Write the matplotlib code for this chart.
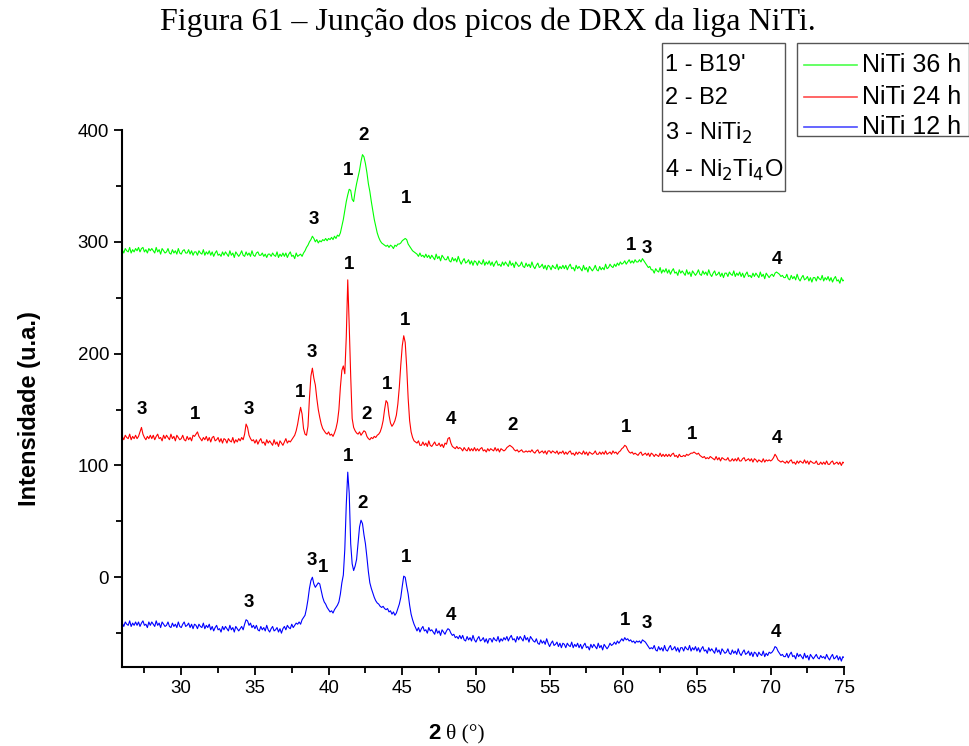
import numpy as np
import matplotlib
matplotlib.use("Agg")
import matplotlib.pyplot as plt
from matplotlib.patches import Rectangle
from matplotlib.lines import Line2D

SANS = ["Liberation Sans", "DejaVu Sans"]
SERIF = ["Liberation Serif", "DejaVu Serif"]
plt.rcParams["font.family"] = SANS

# 2-theta grid (degrees), 0.1 deg step
two_theta = np.round(np.arange(26.0, 75.01, 0.1), 1)

# Intensities (a.u., vertically offset), one row per degree
niti_36h = [
    293, 290, 294, 292, 291, 295, 290, 293, 291, 294,  # 26
    292, 295, 291, 294, 295, 291, 293, 290, 294, 292,  # 27
    294, 292, 290, 295, 291, 293, 289, 294, 292, 290,  # 28
    291, 294, 290, 289, 293, 290, 292, 289, 294, 290,  # 29
    289, 292, 293, 290, 290, 293, 289, 292, 288, 291,  # 30
    291, 288, 292, 290, 289, 293, 288, 291, 289, 292,  # 31
    288, 291, 287, 290, 292, 288, 289, 287, 291, 288,  # 32
    291, 289, 287, 292, 288, 290, 286, 291, 289, 287,  # 33
    289, 292, 288, 287, 291, 288, 290, 287, 292, 288,  # 34
    287, 290, 291, 288, 288, 290, 287, 289, 286, 289,  # 35
    289, 287, 290, 288, 287, 291, 286, 289, 287, 290,  # 36
    287, 290, 286, 289, 291, 287, 288, 285, 290, 287,  # 37
    288, 289, 287, 290, 292, 295, 297, 300, 302, 305,  # 38
    303, 300, 302, 299, 301, 300, 302, 301, 303, 301,  # 39
    303, 302, 304, 302, 305, 303, 306, 305, 308, 314,  # 40
    320, 328, 336, 342, 347, 346, 338, 336, 345, 352,  # 41
    358, 364, 372, 378, 376, 370, 362, 352, 345, 336,  # 42
    328, 320, 314, 308, 304, 301, 299, 298, 297, 296,  # 43
    297, 295, 297, 296, 294, 297, 296, 298, 298, 299,  # 44
    301, 302, 303, 302, 298, 296, 294, 292, 291, 290,  # 45
    289, 287, 290, 287, 288, 286, 289, 286, 288, 285,  # 46
    288, 286, 284, 289, 285, 287, 283, 288, 286, 284,  # 47
    284, 287, 283, 282, 286, 283, 285, 282, 287, 283,  # 48
    280, 283, 285, 281, 282, 284, 280, 283, 279, 283,  # 49
    282, 279, 283, 281, 280, 284, 279, 282, 280, 283,  # 50
    279, 282, 278, 281, 283, 279, 280, 278, 282, 279,  # 51
    282, 280, 278, 283, 279, 281, 277, 282, 280, 278,  # 52
    279, 282, 278, 277, 281, 278, 280, 277, 282, 278,  # 53
    276, 279, 281, 277, 278, 280, 276, 279, 275, 279,  # 54
    278, 275, 279, 277, 276, 280, 275, 278, 276, 279,  # 55
    276, 279, 275, 278, 280, 276, 277, 274, 279, 276,  # 56
    278, 276, 274, 279, 275, 277, 273, 278, 276, 274,  # 57
    276, 279, 275, 274, 278, 275, 277, 275, 280, 276,  # 58
    277, 280, 278, 277, 280, 278, 281, 279, 282, 280,  # 59
    281, 283, 280, 282, 284, 281, 283, 281, 284, 282,  # 60
    282, 284, 282, 285, 283, 281, 279, 277, 278, 275,  # 61
    275, 272, 276, 274, 273, 277, 272, 275, 273, 276,  # 62
    272, 275, 271, 274, 276, 272, 273, 270, 275, 272,  # 63
    274, 272, 270, 275, 271, 273, 269, 274, 272, 270,  # 64
    272, 275, 271, 270, 274, 271, 273, 270, 275, 271,  # 65
    269, 272, 274, 270, 271, 273, 269, 272, 268, 272,  # 66
    272, 269, 273, 271, 270, 274, 269, 272, 270, 273,  # 67
    269, 272, 268, 271, 273, 269, 270, 268, 272, 269,  # 68
    272, 270, 268, 273, 269, 271, 267, 272, 270, 268,  # 69
    270, 271, 269, 272, 273, 272, 271, 269, 270, 268,  # 70
    268, 271, 267, 266, 270, 267, 269, 266, 271, 267,  # 71
    265, 268, 270, 266, 267, 269, 265, 268, 264, 268,  # 72
    268, 265, 269, 267, 266, 270, 265, 268, 266, 269,  # 73
    265, 268, 264, 267, 269, 265, 266, 263, 268, 265,  # 74
    266,                                               # 75
]

niti_24h = [
    126, 123, 127, 125, 124, 128, 123, 126, 124, 127,  # 26
    124, 126, 130, 134, 128, 125, 123, 126, 124, 127,  # 27
    124, 127, 123, 126, 128, 124, 125, 122, 127, 124,  # 28
    127, 125, 123, 128, 124, 126, 122, 127, 125, 123,  # 29
    124, 127, 123, 122, 126, 123, 125, 122, 127, 126,  # 30
    128, 130, 126, 124, 122, 125, 123, 126, 122, 125,  # 31
    121, 125, 126, 122, 123, 125, 121, 124, 120, 124,  # 32
    123, 120, 124, 122, 121, 125, 120, 123, 121, 124,  # 33
    122, 125, 123, 128, 137, 134, 127, 124, 122, 123,  # 34
    120, 123, 119, 122, 124, 120, 121, 118, 123, 120,  # 35
    122, 120, 118, 123, 119, 121, 117, 122, 120, 118,  # 36
    121, 124, 120, 122, 121, 123, 125, 127, 131, 137,  # 37
    145, 152, 146, 133, 128, 127, 135, 160, 180, 187,  # 38
    178, 172, 160, 150, 143, 137, 133, 131, 129, 128,  # 39
    130, 127, 128, 126, 129, 133, 139, 150, 170, 185,  # 40
    189, 182, 215, 266, 225, 180, 142, 134, 131, 129,  # 41
    128, 130, 127, 129, 131, 130, 126, 124, 123, 125,  # 42
    124, 126, 125, 127, 128, 130, 134, 140, 150, 158,  # 43
    156, 145, 138, 135, 137, 140, 145, 155, 170, 190,  # 44
    207, 216, 210, 188, 160, 140, 130, 125, 122, 121,  # 45
    120, 122, 118, 118, 121, 118, 120, 117, 122, 118,  # 46
    117, 119, 121, 118, 118, 120, 117, 119, 116, 120,  # 47
    119, 124, 125, 120, 117, 116, 115, 117, 115, 116,  # 48
    115, 113, 116, 114, 113, 116, 113, 115, 113, 116,  # 49
    113, 115, 113, 115, 116, 113, 114, 112, 115, 113,  # 50
    115, 114, 113, 116, 113, 115, 112, 115, 114, 113,  # 51
    114, 116, 117, 118, 117, 116, 114, 113, 114, 112,  # 52
    113, 114, 112, 112, 113, 112, 113, 112, 114, 112,  # 53
    111, 113, 114, 111, 112, 113, 111, 113, 110, 113,  # 54
    113, 111, 113, 112, 111, 113, 110, 112, 111, 113,  # 55
    110, 112, 110, 112, 113, 110, 111, 109, 112, 110,  # 56
    112, 111, 110, 113, 110, 112, 109, 112, 111, 110,  # 57
    111, 113, 110, 110, 112, 110, 112, 110, 113, 110,  # 58
    111, 112, 110, 113, 111, 112, 110, 112, 113, 115,  # 59
    116, 118, 117, 114, 112, 111, 112, 110, 111, 110,  # 60
    109, 111, 112, 109, 110, 111, 109, 111, 108, 111,  # 61
    110, 108, 110, 109, 108, 111, 108, 110, 108, 110,  # 62
    108, 110, 108, 110, 111, 108, 109, 107, 110, 108,  # 63
    108, 109, 108, 110, 109, 110, 111, 111, 112, 111,  # 64
    110, 111, 109, 108, 107, 108, 106, 107, 106, 108,  # 65
    107, 106, 105, 108, 105, 107, 104, 107, 106, 105,  # 66
    105, 107, 104, 104, 106, 104, 106, 104, 107, 104,  # 67
    104, 106, 107, 104, 105, 106, 104, 106, 103, 106,  # 68
    105, 103, 105, 104, 103, 106, 103, 105, 104, 105,  # 69
    104, 105, 107, 110, 108, 105, 104, 103, 104, 103,  # 70
    102, 104, 102, 104, 105, 102, 103, 101, 104, 102,  # 71
    104, 103, 102, 105, 102, 104, 101, 104, 103, 102,  # 72
    102, 104, 101, 101, 103, 101, 103, 101, 104, 101,  # 73
    101, 103, 104, 101, 102, 103, 101, 103, 100, 103,  # 74
    102,                                               # 75
]

niti_12h = [
    -41, -44, -40, -42, -43, -39, -44, -41, -43, -40,  # 26
    -43, -40, -44, -41, -39, -43, -42, -45, -40, -43,  # 27
    -40, -42, -44, -39, -43, -41, -45, -40, -42, -44,  # 28
    -43, -40, -44, -45, -41, -44, -42, -45, -40, -44,  # 29
    -45, -42, -40, -44, -43, -41, -45, -42, -46, -42,  # 30
    -43, -46, -42, -44, -45, -41, -46, -43, -45, -42,  # 31
    -47, -44, -48, -45, -43, -47, -46, -49, -44, -47,  # 32
    -44, -46, -48, -43, -47, -45, -49, -44, -46, -48,  # 33
    -46, -44, -47, -42, -38, -39, -43, -41, -45, -43,  # 34
    -46, -43, -47, -48, -44, -47, -45, -48, -43, -47,  # 35
    -49, -46, -44, -48, -47, -45, -49, -46, -50, -46,  # 36
    -44, -47, -43, -45, -46, -42, -45, -43, -41, -42,  # 37
    -40, -42, -38, -36, -34, -28, -20, -10, -3, 0,     # 38
    -6, -9, -7, -5, -6, -12, -18, -22, -24, -27,       # 39
    -29, -31, -30, -32, -29, -27, -25, -22, -15, -5,   # 40
    2, 25, 65, 94, 75, 30, 12, 6, 10, 16,              # 41
    30, 45, 51, 48, 38, 30, 18, 5, -5, -10,            # 42
    -14, -18, -21, -23, -24, -26, -27, -26, -28, -29,  # 43
    -28, -31, -30, -33, -31, -34, -32, -28, -24, -18,  # 44
    -8, 1, 0, -8, -15, -25, -33, -38, -42, -45,        # 45
    -48, -45, -49, -46, -44, -48, -47, -50, -45, -48,  # 46
    -47, -49, -51, -46, -50, -48, -52, -47, -49, -51,  # 47
    -48, -46, -47, -50, -52, -51, -54, -53, -55, -52,  # 48
    -55, -52, -56, -57, -53, -56, -54, -57, -52, -56,  # 49
    -58, -55, -53, -57, -56, -54, -58, -55, -59, -55,  # 50
    -55, -58, -54, -56, -57, -53, -58, -55, -57, -54,  # 51
    -56, -53, -57, -54, -52, -56, -55, -58, -53, -56,  # 52
    -53, -55, -57, -52, -56, -54, -58, -53, -55, -57,  # 53
    -58, -55, -59, -60, -56, -59, -57, -60, -55, -59,  # 54
    -62, -59, -57, -61, -60, -58, -62, -59, -63, -59,  # 55
    -60, -63, -59, -61, -62, -58, -63, -60, -62, -59,  # 56
    -63, -60, -64, -61, -59, -63, -62, -65, -60, -63,  # 57
    -60, -62, -64, -59, -63, -61, -65, -60, -62, -64,  # 58
    -62, -59, -61, -60, -58, -60, -57, -59, -57, -55,  # 59
    -57, -54, -56, -55, -57, -56, -58, -57, -59, -57,  # 60
    -58, -57, -59, -56, -57, -58, -60, -62, -64, -63,  # 61
    -64, -61, -65, -66, -62, -65, -63, -66, -61, -65,  # 62
    -66, -63, -61, -65, -64, -62, -66, -63, -67, -63,  # 63
    -63, -66, -62, -64, -65, -61, -66, -63, -65, -62,  # 64
    -66, -63, -67, -64, -62, -66, -65, -68, -63, -66,  # 65
    -64, -66, -68, -63, -67, -65, -69, -64, -66, -68,  # 66
    -67, -64, -68, -69, -65, -68, -66, -69, -64, -68,  # 67
    -70, -67, -65, -69, -68, -66, -70, -67, -71, -67,  # 68
    -68, -71, -67, -69, -70, -66, -71, -68, -70, -67,  # 69
    -68, -67, -65, -62, -63, -66, -68, -70, -69, -71,  # 70
    -71, -68, -72, -69, -67, -71, -70, -73, -68, -71,  # 71
    -69, -71, -73, -68, -72, -70, -74, -69, -71, -73,  # 72
    -71, -69, -72, -73, -70, -72, -71, -73, -69, -72,  # 73
    -74, -71, -69, -73, -72, -70, -74, -71, -75, -71,  # 74
    -72,                                               # 75
]

# Phase labels: (2-theta, intensity, phase number)
labels_36h = [(38.97, 320, "3"), (41.35, 364, "1"), (42.35, 395, "2"),
              (45.27, 339, "1"), (60.55, 297, "1"), (61.6, 294, "3"),
              (70.46, 284, "4")]
labels_24h = [(27.35, 150, "3"), (30.95, 146, "1"), (34.6, 150, "3"),
              (38.07, 165, "1"), (38.89, 201, "3"), (41.4, 280, "1"),
              (42.56, 146, "2"), (43.98, 172, "1"), (45.2, 230, "1"),
              (48.27, 141, "4"), (52.48, 136, "2"), (60.16, 134, "1"),
              (64.64, 128, "1"), (70.4, 124, "4")]
labels_12h = [(41.34, 108, "1"), (42.29, 66, "2"), (38.89, 15, "3"),
              (39.63, 9, "1"), (45.27, 18, "1"), (34.6, -23, "3"),
              (48.33, -34, "4"), (60.1, -39, "1"), (61.6, -41, "3"),
              (70.33, -49, "4")]

phase_names = ["1 - B19'", "2 - B2", "3 - NiTi$_2$", "4 - Ni$_2$Ti$_4$O"]
series_names = ["NiTi 36 h", "NiTi 24 h", "NiTi 12 h"]
series_colors = ["#00ff00", "#ff0000", "#0000ff"]

fig = plt.figure(figsize=(9.70, 7.46), dpi=100)
ax = fig.add_axes([0.1261, 0.1063, 0.7443, 0.7194])

series = [niti_36h, niti_24h, niti_12h]
for vals, col in zip(series[::-1], series_colors[::-1]):
    assert len(vals) == len(two_theta)
    ax.plot(two_theta, vals, color=col, lw=0.8)

for lab_list in (labels_36h, labels_24h, labels_12h):
    for xv, yv, t in lab_list:
        ax.text(xv, yv, t, ha="center", va="center", fontsize=13.5,
                fontweight="bold", color="black")

ax.set_xlim(26, 75)
ax.set_ylim(-80, 400)
ax.set_xticks(np.arange(30, 76, 5))
ax.set_xticks(np.arange(27.5, 76, 5), minor=True)
ax.set_yticks([0, 100, 200, 300, 400])
ax.set_yticks([-50, 50, 150, 250, 350], minor=True)
for s in ("top", "right"):
    ax.spines[s].set_visible(False)
for s in ("left", "bottom"):
    ax.spines[s].set_linewidth(1.5)
ax.tick_params(which="major", direction="out", length=6, width=1.3,
               labelsize=13.5)
ax.tick_params(which="minor", direction="out", length=4, width=1.3)

ax.set_ylabel("Intensidade (u.a.)", fontsize=17, fontweight="bold")
ax.yaxis.set_label_coords(-0.112, 0.481)

# x-axis label: bold "2" followed by serif "θ (°)"
fig.text(0.4545, 0.003, "2", fontsize=16, fontweight="bold", ha="right",
         va="bottom")
fig.text(0.4595, 0.003, "θ (°)", fontsize=15.5, family=SERIF, ha="left",
         va="bottom")

fig.text(0.503, 0.970, "Figura 61 \u2013 Junção dos picos de DRX da liga NiTi.",
         fontsize=23, family=SERIF, ha="center", va="center")

# Phase key box
W, H = 970.0, 746.0
fig.patches.append(Rectangle((662 / W, 1 - 191 / H), 123 / W, 148 / H,
                             transform=fig.transFigure, fill=True,
                             facecolor="white", edgecolor="#555555", lw=1))
for i, name in enumerate(phase_names):
    yy = [65, 98, 133, 170][i]
    fig.text(665 / W, 1 - yy / H, name, fontsize=17, ha="left", va="center")

# Series key box
fig.patches.append(Rectangle((797 / W, 1 - 136 / H), 172 / W, 93 / H,
                             transform=fig.transFigure, fill=True,
                             facecolor="white", edgecolor="#555555", lw=1))
for i, (name, col) in enumerate(zip(series_names, series_colors)):
    yy = [65, 97, 127][i]
    fig.lines.append(Line2D([804 / W, 857 / W], [1 - yy / H, 1 - yy / H],
                            transform=fig.transFigure, color=col, lw=1.2,
                            alpha=0.7))
    fig.text(862 / W, 1 - yy / H, name, fontsize=18, ha="left", va="center")

fig.savefig("out.png", dpi=100)
